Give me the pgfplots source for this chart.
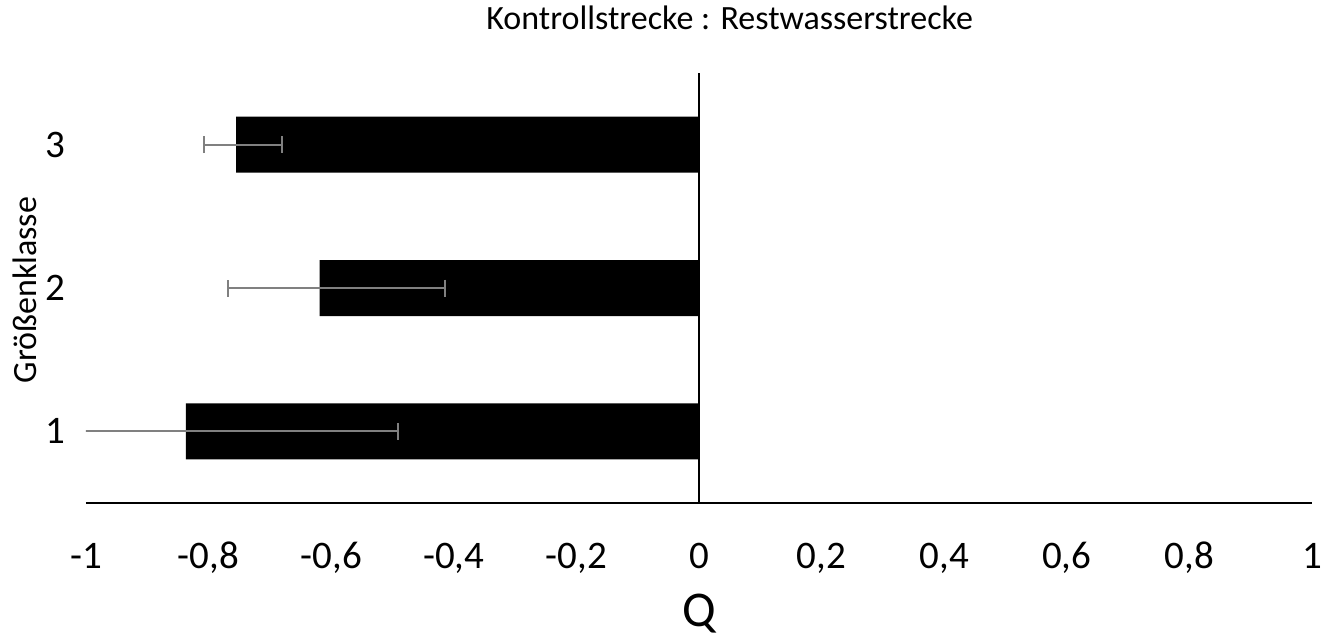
\documentclass[border=0pt]{standalone}
\usepackage{pgfplots}
\pgfplotsset{compat=1.18}
\usepackage{fontspec}
\setmainfont{Carlito}
\pgfplotstableread{
y x ep em
1 -0.837 0.346 0.346
2 -0.619 0.205 0.149
3 -0.755 0.075 0.0525
}\datatab
\begin{document}
\begin{tikzpicture}
\useasboundingbox (-43pt,-70pt) rectangle (618.5pt,251.5pt);
\begin{axis}[
  at={(0pt,0pt)}, anchor=south west,
  scale only axis, width=613pt, height=215pt,
  xmin=-1, xmax=1, ymin=0.5, ymax=3.5,
  axis x line*=bottom, axis y line*=left,
  y axis line style={draw=none},
  x axis line style={line width=1pt},
  xtick={-1,-0.8,-0.6,-0.4,-0.2,0,0.2,0.4,0.6,0.8,1},
  xticklabels={{-1},{-0,8},{-0,6},{-0,4},{-0,2},{0},{0,2},{0,4},{0,6},{0,8},{1}},
  ytick={1,2,3}, yticklabels={1,2,3},
  major tick length=0pt,
  xticklabel style={anchor=base, yshift=-32.5pt, font=\fontsize{19.5pt}{22pt}\selectfont},
  yticklabel style={anchor=center, xshift=-15.5pt, font=\fontsize{19.5pt}{22pt}\selectfont},
  title={Kontrollstrecke : Restwasserstrecke},
  title style={at={(axis description cs:0.525,1.073)}, anchor=base, yshift=0pt, font=\fontsize{17pt}{20pt}\selectfont},
  xlabel={Q},
  xlabel style={at={(axis description cs:0.5,-0.288)}, anchor=base, yshift=0pt, font=\fontsize{25pt}{28pt}\selectfont},
  ylabel={Größenklasse},
  ylabel style={at={(axis description cs:-0.0498,0.495)}, anchor=center, rotate=0, font=\fontsize{17pt}{20pt}\selectfont},
  clip=true,
]
\addplot[xbar, bar width=28pt, fill=black, draw=none,
  error bars/.cd, x dir=both, x explicit,
  error bar style={color=gray, line width=1pt},
  error mark options={color=gray, line width=1pt, mark size=4.25pt, rotate=90}]
  table[x=x, y=y, x error plus=ep, x error minus=em] {\datatab};
\draw[line width=1pt] (axis cs:0,0.5) -- (axis cs:0,3.5);
\end{axis}
\end{tikzpicture}
\end{document}
